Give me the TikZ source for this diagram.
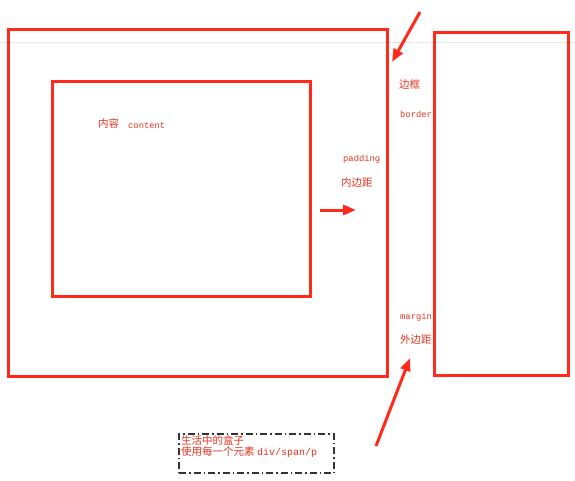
\documentclass[tikz,border=0pt]{standalone}
\usepackage{fontspec}
\newfontfamily\cjk{Noto Sans CJK SC}
\setmonofont{Liberation Mono}
\usetikzlibrary{arrows.meta,positioning}
\definecolor{boxred}{HTML}{FF2A1A}
\definecolor{txtred}{HTML}{E8321E}

\begin{document}
\begin{tikzpicture}[x=1pt,y=-1pt,
  redbox/.style={draw=boxred, line width=3pt},
  redarrow/.style={boxred, line width=3pt, -{Triangle[length=13pt,width=10pt]}},
  cnlabel/.style={inner sep=0pt, anchor=west, text=txtred, font=\cjk\fontsize{10.5}{12}\selectfont},
  enlabel/.style={inner sep=0pt, anchor=west, text=txtred, font=\ttfamily\fontsize{8.8}{10}\selectfont}]
  \useasboundingbox (0,0) rectangle (575,481);
  \draw [black!10, line width=0.8pt] (0,42) -- (575,42);

  % boxes
  \node (outer) [redbox, minimum width=379pt, minimum height=346pt, inner sep=0pt] at (197.5,203) {};
  \node (inner) [redbox, minimum width=258pt, minimum height=214pt, inner sep=0pt] at (181,189) {};
  \node (next)  [redbox, minimum width=134pt, minimum height=342pt, inner sep=0pt] at (501,204) {};

  % labels
  \node (content cn) [cnlabel] at (98,123) {内容};
  \node (content en) [enlabel] at (128,126) {content};
  \node (border cn) [cnlabel] at (399,85) {边框};
  \node (border en) [enlabel] at (400,114) {border};
  \node (padding en) [enlabel] at (343,159) {padding};
  \node (padding cn) [cnlabel] at (341,183) {内边距};
  \node (margin en) [enlabel] at (400,317) {margin};
  \node (margin cn) [cnlabel] at (400,340) {外边距};

  % note
  \node (note) [draw=black!80, line width=1.1pt, dash pattern=on 7pt off 3pt on 1.5pt off 3pt,
    minimum width=155pt, minimum height=39pt, inner sep=0pt] at (256.5,453.5) {};
  \node (note text) [anchor=north west, inner sep=0pt, align=left, text=txtred,
    font=\cjk\fontsize{10.5}{11}\selectfont] at (181,435)
    {生活中的盒子\\使用每一个元素 {\ttfamily\fontsize{10}{11}\selectfont div/span/p}};

  % arrows
  \coordinate (a1) at (420,12);
  \coordinate (b1) at (392,62);
  \coordinate (a2) at (320,210);
  \coordinate (b2) at (356,210);
  \coordinate (a3) at (376,446);
  \coordinate (b3) at (410,358);
  \draw [redarrow] (a1) -- (b1);
  \draw [redarrow] (a2) -- (b2);
  \draw [redarrow] (a3) -- (b3);
\end{tikzpicture}
\end{document}
